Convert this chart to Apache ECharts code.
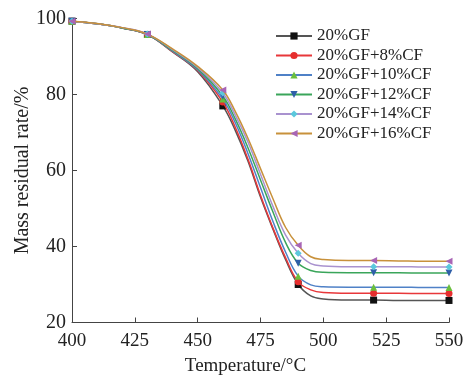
<!DOCTYPE html>
<html>
<head>
<meta charset="utf-8">
<script src="https://cdn.jsdelivr.net/npm/echarts@6/dist/echarts.min.js"></script>
<style>html,body{margin:0;padding:0;background:#fff}#c{width:467px;height:378px}</style>
</head>
<body>
<div id="c"></div>
<script>
const temps = [400, 410, 420, 430, 440, 450, 460, 465, 470, 475, 480, 485, 490, 495, 500, 510, 520, 530, 540, 550];
const markerTemps = [400, 430, 460, 490, 520, 550];
const seriesNames = ['20%GF', '20%GF+8%CF', '20%GF+10%CF', '20%GF+12%CF', '20%GF+14%CF', '20%GF+16%CF'];
const gf20    = [99.3, 98.6, 97.5, 95.8, 91.2, 86.0, 77.0, 70.5, 62.5, 53.0, 44.5, 36.5, 30.0, 27.0, 26.2, 25.9, 25.9, 25.8, 25.8, 25.8];
const gf20cf8 = [99.3, 98.6, 97.5, 95.8, 91.3, 86.3, 78.0, 71.3, 63.0, 53.5, 44.8, 37.0, 30.7, 28.6, 27.9, 27.7, 27.7, 27.7, 27.6, 27.6];
const gf20cf10= [99.3, 98.6, 97.5, 95.8, 91.4, 86.5, 78.8, 72.5, 64.5, 55.5, 46.5, 38.5, 32.2, 29.9, 29.4, 29.3, 29.3, 29.3, 29.2, 29.2];
const gf20cf12= [99.3, 98.6, 97.5, 95.8, 91.6, 86.8, 79.6, 73.5, 66.0, 57.5, 49.0, 41.0, 35.6, 33.7, 33.2, 33.1, 33.1, 33.1, 33.0, 33.0];
const gf20cf14= [99.3, 98.6, 97.6, 95.9, 91.8, 87.1, 80.4, 74.5, 67.5, 59.0, 50.5, 43.0, 38.2, 35.5, 34.9, 34.7, 34.7, 34.7, 34.6, 34.6];
const gf20cf16= [99.3, 98.7, 97.6, 95.9, 92.0, 87.4, 81.2, 75.5, 68.5, 60.5, 52.5, 45.0, 40.3, 37.3, 36.6, 36.3, 36.3, 36.2, 36.1, 36.1];
const xTicks = [400, 425, 450, 475, 500, 525, 550];
const yTicks = [20, 40, 60, 80, 100];

const allValues = [gf20, gf20cf8, gf20cf10, gf20cf12, gf20cf14, gf20cf16];
const lineColors = ['#555555', '#e8373a', '#4f81c7', '#3aa55a', '#a992cf', '#c8913b'];
const markColors = ['#111111', '#e62e2e', '#6abf3c', '#2f5fa8', '#5bc8dc', '#a865b5'];
const symbols = ['rect', 'circle', 'triangle', 'triangle', 'diamond', 'triangle'];
const rotates = [0, 0, 0, 180, 0, 90];

const font = '"Liberation Serif", "Times New Roman", serif';
const chart = echarts.init(document.getElementById('c'), null, {renderer: 'canvas'});
const series = allValues.map((vals, i) => ({
  name: seriesNames[i],
  type: 'line',
  smooth: 0.4,
  symbol: symbols[i],
  symbolRotate: rotates[i],
  symbolSize: 7,
  showAllSymbol: true,
  lineStyle: {color: lineColors[i], width: 1.5},
  itemStyle: {color: markColors[i], borderWidth: 0},
  z: 2 + i,
  data: temps.map((t, j) => markerTemps.includes(t)
    ? {value: [t, vals[j]]}
    : {value: [t, vals[j]], symbol: 'none'})
}));

chart.setOption({
  animation: false,
  backgroundColor: '#fff',
  textStyle: {fontFamily: font},
  grid: {left: 72, right: 18, top: 18.5, bottom: 55.5, containLabel: false, outerBoundsMode: 'none'},
  legend: {
    orient: 'vertical',
    left: 275,
    top: 27,
    padding: 0,
    itemWidth: 36,
    itemHeight: 9,
    itemGap: 1.5,
    textStyle: {fontFamily: font, fontSize: 17, color: '#222', lineHeight: 18, padding: [0, 0, 0, 0]},
    data: seriesNames
  },
  xAxis: {
    type: 'value',
    min: 400, max: 550, interval: 25,
    name: 'Temperature/°C',
    nameLocation: 'middle',
    nameGap: 34,
    nameMoveOverlap: false,
    nameTextStyle: {fontFamily: font, fontSize: 19, color: '#222', padding: [0, 30, 0, 0]},
    axisLine: {show: true, lineStyle: {color: '#444', width: 1}},
    axisTick: {show: true, inside: true, length: 5, lineStyle: {color: '#444'}},
    axisLabel: {fontFamily: font, fontSize: 19, color: '#222', margin: 9,
      formatter: v => xTicks.includes(v) ? String(v) : ''},
    splitLine: {show: false}
  },
  yAxis: {
    type: 'value',
    min: 20, max: 100, interval: 20,
    name: 'Mass residual rate/%',
    nameLocation: 'middle',
    nameGap: 39,
    nameMoveOverlap: false,
    nameRotate: 90,
    nameTextStyle: {fontFamily: font, fontSize: 20, color: '#222'},
    axisLine: {show: true, lineStyle: {color: '#444', width: 1}},
    axisTick: {show: true, inside: true, length: 5, lineStyle: {color: '#444'}},
    axisLabel: {fontFamily: font, fontSize: 20, color: '#222', margin: 6,
      formatter: v => yTicks.includes(v) ? String(v) : ''},
    splitLine: {show: false}
  },
  series: series
});
</script>
</body>
</html>
